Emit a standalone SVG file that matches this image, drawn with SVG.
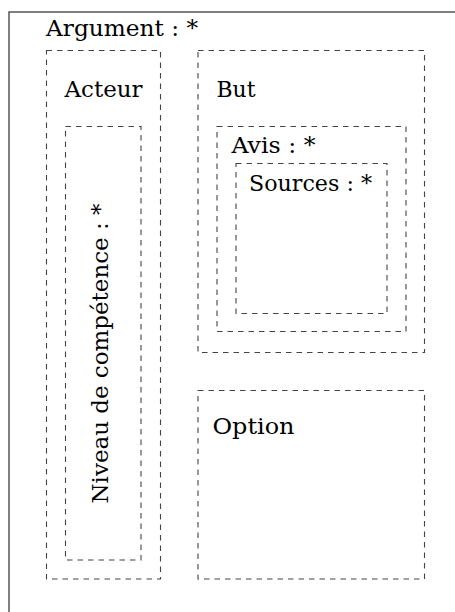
<svg xmlns="http://www.w3.org/2000/svg" width="455" height="612" viewBox="0 0 455 612">
<style>
.frame{fill:none;stroke:#555;stroke-width:1.5}
.box{fill:none;stroke:#444;stroke-width:1.1;stroke-dasharray:5.5 5}
.lbl{font-family:"DejaVu Serif","Liberation Serif",serif;font-size:22.5px;fill:#000}
</style>
<rect width="455" height="612" fill="#fff"/>
<g id="argument">
<rect class="frame" x="9" y="12" width="470" height="640"/>
<text class="lbl" x="46" y="36" textLength="152" lengthAdjust="spacingAndGlyphs">Argument : *</text>
</g>
<g id="acteur">
<rect class="box" x="46.5" y="50.5" width="114" height="528.5"/>
<text class="lbl" x="64.5" y="97" textLength="78" lengthAdjust="spacingAndGlyphs">Acteur</text>
</g>
<g id="niveau">
<rect class="box" x="65.5" y="126.5" width="75.5" height="433.5"/>
<text class="lbl" transform="translate(108.3,503.5) rotate(-90)" x="0" y="0" textLength="300" lengthAdjust="spacingAndGlyphs">Niveau de compétence : *</text>
</g>
<g id="but">
<rect class="box" x="198" y="50.5" width="226.5" height="302"/>
<text class="lbl" x="216.5" y="97" textLength="39" lengthAdjust="spacingAndGlyphs">But</text>
</g>
<g id="avis">
<rect class="box" x="217" y="126.5" width="189" height="205"/>
<text class="lbl" x="231.5" y="153" textLength="84" lengthAdjust="spacingAndGlyphs">Avis : *</text>
</g>
<g id="sources">
<rect class="box" x="236" y="163.5" width="151" height="150"/>
<text class="lbl" x="249" y="190.5" textLength="123" lengthAdjust="spacingAndGlyphs">Sources : *</text>
</g>
<g id="option">
<rect class="box" x="198" y="390.5" width="226.5" height="188.5"/>
<text class="lbl" x="212.5" y="434" textLength="82" lengthAdjust="spacingAndGlyphs">Option</text>
</g>
<g id="connectors"></g>
</svg>
